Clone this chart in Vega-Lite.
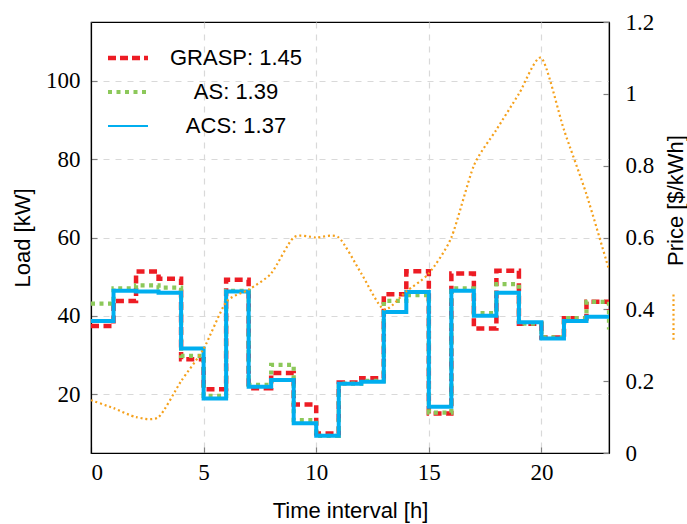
{
  "$schema": "https://vega.github.io/schema/vega-lite/v6.json",
  "width": 518,
  "height": 431,
  "autosize": {"type": "none"},
  "padding": {"left": 91, "top": 22, "right": 78, "bottom": 71},
  "background": "white",
  "config": {
    "view": {"stroke": "black", "strokeWidth": 1.2},
    "axis": {
      "domainColor": "black",
      "domainWidth": 1.2,
      "tickColor": "#808080",
      "tickSize": -6,
      "tickWidth": 1.2,
      "labelFont": "Liberation Serif",
      "labelFontSize": 23,
      "labelColor": "black",
      "titleFont": "Liberation Sans",
      "titleFontSize": 22,
      "titleFontWeight": "normal",
      "titleColor": "black",
      "gridColor": "#d9d9d9",
      "gridDash": [6, 6],
      "gridWidth": 1.2
    }
  },
  "datasets": {
    "load": [
      {"h": 0, "series": "GRASP", "load": 37.4}, {"h": 1, "series": "GRASP", "load": 43.8}, {"h": 2, "series": "GRASP", "load": 51.3}, {"h": 3, "series": "GRASP", "load": 49.5},
      {"h": 4, "series": "GRASP", "load": 28.9}, {"h": 5, "series": "GRASP", "load": 21.3}, {"h": 6, "series": "GRASP", "load": 49.2}, {"h": 7, "series": "GRASP", "load": 21.5},
      {"h": 8, "series": "GRASP", "load": 25.4}, {"h": 9, "series": "GRASP", "load": 17.4}, {"h": 10, "series": "GRASP", "load": 10.0}, {"h": 11, "series": "GRASP", "load": 23.0},
      {"h": 12, "series": "GRASP", "load": 24.1}, {"h": 13, "series": "GRASP", "load": 45.5}, {"h": 14, "series": "GRASP", "load": 51.4}, {"h": 15, "series": "GRASP", "load": 15.1},
      {"h": 16, "series": "GRASP", "load": 50.8}, {"h": 17, "series": "GRASP", "load": 36.8}, {"h": 18, "series": "GRASP", "load": 51.5}, {"h": 19, "series": "GRASP", "load": 38.0},
      {"h": 20, "series": "GRASP", "load": 34.5}, {"h": 21, "series": "GRASP", "load": 39.4}, {"h": 22, "series": "GRASP", "load": 43.6}, {"h": 23, "series": "GRASP", "load": 41.5},
      {"h": 0, "series": "AS", "load": 43.1}, {"h": 1, "series": "AS", "load": 47.0}, {"h": 2, "series": "AS", "load": 47.8}, {"h": 3, "series": "AS", "load": 47.2},
      {"h": 4, "series": "AS", "load": 29.8}, {"h": 5, "series": "AS", "load": 19.6}, {"h": 6, "series": "AS", "load": 46.4}, {"h": 7, "series": "AS", "load": 22.4},
      {"h": 8, "series": "AS", "load": 27.5}, {"h": 9, "series": "AS", "load": 13.4}, {"h": 10, "series": "AS", "load": 9.4}, {"h": 11, "series": "AS", "load": 22.7},
      {"h": 12, "series": "AS", "load": 23.4}, {"h": 13, "series": "AS", "load": 43.8}, {"h": 14, "series": "AS", "load": 45.3}, {"h": 15, "series": "AS", "load": 15.3},
      {"h": 16, "series": "AS", "load": 47.0}, {"h": 17, "series": "AS", "load": 40.7}, {"h": 18, "series": "AS", "load": 48.1}, {"h": 19, "series": "AS", "load": 38.0},
      {"h": 20, "series": "AS", "load": 34.5}, {"h": 21, "series": "AS", "load": 39.4}, {"h": 22, "series": "AS", "load": 43.6}, {"h": 23, "series": "AS", "load": 36.5},
      {"h": 0, "series": "ACS", "load": 38.7}, {"h": 1, "series": "ACS", "load": 46.4}, {"h": 2, "series": "ACS", "load": 46.2}, {"h": 3, "series": "ACS", "load": 45.9},
      {"h": 4, "series": "ACS", "load": 31.7}, {"h": 5, "series": "ACS", "load": 18.9}, {"h": 6, "series": "ACS", "load": 46.2}, {"h": 7, "series": "ACS", "load": 21.9},
      {"h": 8, "series": "ACS", "load": 23.6}, {"h": 9, "series": "ACS", "load": 12.6}, {"h": 10, "series": "ACS", "load": 9.4}, {"h": 11, "series": "ACS", "load": 22.7},
      {"h": 12, "series": "ACS", "load": 23.2}, {"h": 13, "series": "ACS", "load": 41.0}, {"h": 14, "series": "ACS", "load": 46.1}, {"h": 15, "series": "ACS", "load": 16.8},
      {"h": 16, "series": "ACS", "load": 46.4}, {"h": 17, "series": "ACS", "load": 40.0}, {"h": 18, "series": "ACS", "load": 45.9}, {"h": 19, "series": "ACS", "load": 38.4},
      {"h": 20, "series": "ACS", "load": 34.2}, {"h": 21, "series": "ACS", "load": 38.7}, {"h": 22, "series": "ACS", "load": 39.8}, {"h": 23, "series": "ACS", "load": 40.0}
    ],
    "price": [
      {"h": 0, "price": 0.147}, {"h": 1, "price": 0.125}, {"h": 2, "price": 0.1}, {"h": 3, "price": 0.1},
      {"h": 4, "price": 0.2}, {"h": 5, "price": 0.29}, {"h": 6, "price": 0.42}, {"h": 7, "price": 0.455},
      {"h": 8, "price": 0.5}, {"h": 9, "price": 0.6}, {"h": 10, "price": 0.6}, {"h": 11, "price": 0.6},
      {"h": 12, "price": 0.5}, {"h": 13, "price": 0.4}, {"h": 14, "price": 0.45}, {"h": 15, "price": 0.5},
      {"h": 16, "price": 0.6}, {"h": 17, "price": 0.8}, {"h": 18, "price": 0.9}, {"h": 19, "price": 1.0},
      {"h": 20, "price": 1.1}, {"h": 21, "price": 0.9}, {"h": 22, "price": 0.72}, {"h": 23, "price": 0.51}
    ]
  },
  "layer": [
    {
      "data": {"name": "load"},
      "mark": {"type": "line", "interpolate": "step-after", "strokeCap": "butt", "clip": true},
      "encoding": {
        "x": {
          "field": "h", "type": "quantitative",
          "scale": {"domain": [0, 23], "nice": false, "zero": false},
          "axis": {"values": [0, 5, 10, 15, 20], "title": "Time interval [h]", "labelPadding": 14, "titlePadding": 16, "grid": true}
        },
        "y": {
          "field": "load", "type": "quantitative",
          "scale": {"domain": [5, 115], "nice": false, "zero": false},
          "axis": {"values": [20, 40, 60, 80, 100], "title": "Load [kW]", "labelPadding": 17, "titlePadding": 11, "grid": true}
        },
        "color": {
          "field": "series", "type": "nominal",
          "scale": {"domain": ["GRASP", "AS", "ACS"], "range": ["#ed1c24", "#8cc85a", "#00aeef"]},
          "legend": {
            "orient": "none", "legendX": 26, "legendY": 25, "title": null, "padding": 0,
            "symbolType": "stroke", "symbolSize": 1600, "rowPadding": 12,
            "labelFont": "Liberation Sans", "labelFontSize": 22, "labelColor": "black",
            "labelAlign": "center", "labelOffset": 97,
            "labelExpr": "datum.label == 'GRASP' ? 'GRASP: 1.45' : datum.label == 'AS' ? 'AS: 1.39' : 'ACS: 1.37'",
            "encode": {
              "symbols": {
                "update": {
                  "strokeDash": {"signal": "datum.value == 'GRASP' ? [8, 4] : datum.value == 'AS' ? [4, 4.5] : [1, 0]"},
                  "strokeWidth": {"signal": "datum.value == 'GRASP' ? 4.5 : datum.value == 'AS' ? 4 : 2"},
                  "strokeCap": {"value": "butt"}
                }
              }
            }
          }
        },
        "strokeDash": {
          "field": "series", "type": "nominal", "legend": null,
          "scale": {"domain": ["GRASP", "AS", "ACS"], "range": [[8, 4.5], [4, 4.5], [1, 0]]}
        },
        "strokeWidth": {
          "field": "series", "type": "nominal", "legend": null,
          "scale": {"domain": ["GRASP", "AS", "ACS"], "range": [4.5, 4, 2]}
        }
      }
    },
    {
      "data": {"name": "price"},
      "mark": {"type": "line", "interpolate": "cardinal", "tension": 0.3, "strokeDash": [2, 2.8], "strokeWidth": 2.2, "clip": true},
      "encoding": {
        "x": {"field": "h", "type": "quantitative", "scale": {"domain": [0, 23], "nice": false, "zero": false}},
        "y": {
          "field": "price", "type": "quantitative",
          "scale": {"domain": [0, 1.2], "nice": false, "zero": false},
          "axis": {
            "orient": "right", "values": [0, 0.2, 0.4, 0.6, 0.8, 1, 1.2], "format": "~g",
            "title": "Price [$/kWh]", "titleAngle": -90, "titleAlign": "center", "titleBaseline": "middle",
            "titleX": 66, "titleY": 178, "labelPadding": 22, "grid": false
          }
        },
        "color": {
          "datum": "Price",
          "scale": {"range": ["#f5a11c"]},
          "legend": {
            "orient": "none", "legendX": 558, "legendY": 271, "title": null, "padding": 0,
            "symbolType": "M0,-1L0,1", "symbolSize": 2116, "symbolStrokeWidth": 2.2, "symbolDash": [2, 2.8],
            "labelExpr": "''", "labelFontSize": 1
          }
        }
      }
    }
  ],
  "resolve": {"scale": {"y": "independent", "color": "independent"}}
}
